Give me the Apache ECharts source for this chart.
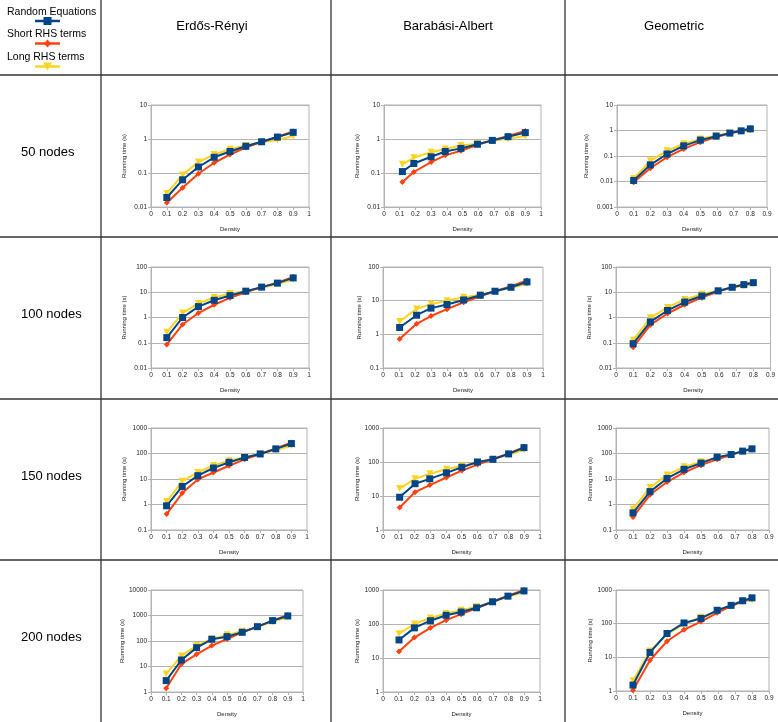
<!DOCTYPE html>
<html>
<head>
<meta charset="utf-8">
<script src="https://cdn.jsdelivr.net/npm/echarts@6/dist/echarts.min.js"></script>
<style>
  html, body { margin: 0; padding: 0; background: #fff; }
  #main { width: 778px; height: 722px; }
</style>
</head>
<body>
<div id="main"></div>
<script>
// densities (x values) as plotted
var erDensity = [0.1, 0.2, 0.3, 0.4, 0.5, 0.6, 0.7, 0.8, 0.9];
var baDensity50 = [0.117, 0.19, 0.3, 0.39, 0.49, 0.595, 0.69, 0.79, 0.9];
var baDensity100 = [0.104, 0.21, 0.3, 0.4, 0.504, 0.608, 0.7, 0.8, 0.9];
var baDensity150 = [0.106, 0.204, 0.298, 0.404, 0.502, 0.602, 0.7, 0.8, 0.898];
var baDensity200 = [0.102, 0.2, 0.302, 0.402, 0.498, 0.596, 0.698, 0.796, 0.898];
var geoDensity = [0.1, 0.2, 0.3, 0.4, 0.5, 0.595, 0.677, 0.745, 0.8];

// running times (s) : Erdős-Rényi
var er50Random = [0.019, 0.063, 0.15, 0.29, 0.43, 0.61, 0.83, 1.14, 1.57];
var er50Short = [0.0134, 0.037, 0.095, 0.2, 0.35, 0.56, 0.82, 1.17, 1.68];
var er50Long = [0.025, 0.088, 0.21, 0.35, 0.5, 0.64, 0.8, 0.93, 1.22];
var er100Random = [0.16, 1.0, 2.7, 4.8, 7.4, 11, 16, 23, 37];
var er100Short = [0.085, 0.53, 1.5, 3.2, 6, 10, 16, 24, 40];
var er100Long = [0.26, 1.5, 3.6, 6.2, 8.9, 11, 15, 21, 32];
var er150Random = [0.89, 5.1, 13.5, 27, 45, 70, 96, 152, 245];
var er150Short = [0.42, 2.8, 9.6, 18, 33, 59, 96, 157, 270];
var er150Long = [1.3, 8.1, 18, 34, 52, 72, 96, 138, 200];
var er200Random = [2.8, 18, 55, 117, 148, 219, 365, 630, 960];
var er200Short = [1.4, 12.6, 30, 66, 120, 220, 365, 630, 1050];
var er200Long = [5.1, 26, 66, 120, 174, 240, 345, 575, 850];

// Barabási-Albert
var ba50Random = [0.11, 0.19, 0.3, 0.43, 0.53, 0.7, 0.91, 1.17, 1.54];
var ba50Short = [0.054, 0.107, 0.21, 0.33, 0.45, 0.68, 0.91, 1.22, 1.72];
var ba50Long = [0.18, 0.28, 0.41, 0.51, 0.64, 0.73, 0.89, 1.02, 1.22];
var ba100Random = [1.6, 3.7, 6, 7.7, 10.5, 14.5, 19, 25, 36];
var ba100Short = [0.73, 2.06, 3.5, 5.6, 9, 13.5, 19, 27, 40];
var ba100Long = [2.4, 5.7, 7.9, 10, 12.6, 14.8, 19, 24, 32];
var ba150Random = [9.2, 23, 32, 48, 70, 100, 120, 173, 265];
var ba150Short = [4.6, 13, 21, 35, 56, 84, 120, 178, 275];
var ba150Long = [16.5, 32, 45, 61, 77, 98, 120, 162, 230];
var ba200Random = [34, 77, 125, 180, 225, 300, 450, 660, 940];
var ba200Short = [15.5, 40, 77, 130, 195, 290, 450, 680, 1000];
var ba200Long = [52, 100, 150, 205, 255, 320, 440, 630, 870];

// Geometric
var geo50Random = [0.011, 0.045, 0.12, 0.25, 0.42, 0.6, 0.79, 0.97, 1.16];
var geo50Short = [0.0094, 0.033, 0.09, 0.19, 0.35, 0.55, 0.76, 1.0, 1.2];
var geo50Long = [0.013, 0.065, 0.16, 0.3, 0.46, 0.62, 0.79, 0.91, 1.0];
var geo100Random = [0.092, 0.67, 1.9, 4.1, 7.1, 11.3, 15.7, 20, 24];
var geo100Short = [0.066, 0.51, 1.44, 3.2, 6.1, 10.6, 15.7, 20.5, 25];
var geo100Long = [0.127, 0.97, 2.5, 5.2, 8.3, 11.6, 15, 18, 21];
var geo150Random = [0.47, 3.2, 10.5, 24, 42, 72, 91, 124, 152];
var geo150Short = [0.32, 2.4, 7.6, 18, 35, 59, 87, 124, 160];
var geo150Long = [0.67, 4.6, 14.5, 30, 48, 68, 90, 118, 143];
var geo200Random = [1.5, 14, 51, 105, 143, 250, 350, 480, 585];
var geo200Short = [1.05, 8.2, 30, 66, 115, 210, 330, 460, 560];
var geo200Long = [2.0, 15.5, 48, 98, 155, 240, 340, 450, 520];

var columnTitles = ['Erdős-Rényi', 'Barabási-Albert', 'Geometric'];
var rowTitles = ['50 nodes', '100 nodes', '150 nodes', '200 nodes'];
var seriesNames = ['Random Equations', 'Short RHS terms', 'Long RHS terms'];

// one entry per small chart: data + axis range + grid box
var panels = [
    { x: erDensity, d: [er50Random, er50Short, er50Long], yMin: 0.01, yMax: 10, xMax: 1, box: [151, 105, 158, 102], gap: 24 },
    { x: baDensity50, d: [ba50Random, ba50Short, ba50Long], yMin: 0.01, yMax: 10, xMax: 1, box: [384, 105, 157, 102], gap: 24 },
    { x: geoDensity, d: [geo50Random, geo50Short, geo50Long], yMin: 0.001, yMax: 10, xMax: 0.9, box: [617, 105, 150, 102], gap: 28 },
    { x: erDensity, d: [er100Random, er100Short, er100Long], yMin: 0.01, yMax: 100, xMax: 1, box: [151, 267, 158, 101], gap: 24 },
    { x: baDensity100, d: [ba100Random, ba100Short, ba100Long], yMin: 0.1, yMax: 100, xMax: 1, box: [383, 267, 160, 101], gap: 21 },
    { x: geoDensity, d: [geo100Random, geo100Short, geo100Long], yMin: 0.01, yMax: 100, xMax: 0.9, box: [616, 267, 155, 101], gap: 24 },
    { x: erDensity, d: [er150Random, er150Short, er150Long], yMin: 0.1, yMax: 1000, xMax: 1, box: [151, 428, 156, 102], gap: 24 },
    { x: baDensity150, d: [ba150Random, ba150Short, ba150Long], yMin: 1, yMax: 1000, xMax: 1, box: [383, 428, 157, 102], gap: 22 },
    { x: geoDensity, d: [geo150Random, geo150Short, geo150Long], yMin: 0.1, yMax: 1000, xMax: 0.9, box: [616, 428, 153, 102], gap: 21 },
    { x: erDensity, d: [er200Random, er200Short, er200Long], yMin: 1, yMax: 10000, xMax: 1, box: [151, 590, 152, 102], gap: 23 },
    { x: baDensity200, d: [ba200Random, ba200Short, ba200Long], yMin: 1, yMax: 1000, xMax: 1, box: [383, 590, 157, 102], gap: 22 },
    { x: geoDensity, d: [geo200Random, geo200Short, geo200Long], yMin: 1, yMax: 1000, xMax: 0.9, box: [616, 590, 153, 101], gap: 22 }
];

var colors = ['#004586', '#ff420e', '#ffd320'];
var symbols = ['rect', 'diamond', 'triangle'];
var symbolSizes = [7, 6, 7];
var symbolRotates = [0, 0, 180];
var zOrder = [4, 3, 2];
var gridColor = '#b3b3b3';
var font = '"Liberation Sans", Arial, sans-serif';

var grids = [], xAxes = [], yAxes = [], series = [];

panels.forEach(function (p, i) {
    grids.push({
        left: p.box[0], top: p.box[1], width: p.box[2], height: p.box[3],
        show: true, borderColor: gridColor, borderWidth: 1, backgroundColor: '#fff'
    });
    xAxes.push({
        gridIndex: i,
        type: 'value',
        min: 0,
        max: p.xMax,
        interval: 0.1,
        name: 'Density',
        nameLocation: 'middle',
        nameGap: 19,
        nameTextStyle: { fontSize: 6, color: '#222', fontFamily: font },
        axisLine: { lineStyle: { color: gridColor } },
        axisTick: { length: 3, lineStyle: { color: gridColor } },
        axisLabel: {
            fontSize: 6.5, color: '#222', margin: 4, fontFamily: font,
            formatter: function (v) { return String(Number(v.toFixed(2))); }
        },
        splitLine: { show: false }
    });
    yAxes.push({
        gridIndex: i,
        type: 'log',
        logBase: 10,
        min: p.yMin,
        max: p.yMax,
        name: 'Running time (s)',
        nameLocation: 'middle',
        nameGap: p.gap,
        nameTextStyle: { fontSize: 6, color: '#222', fontFamily: font },
        axisLine: { show: true, lineStyle: { color: gridColor } },
        axisTick: { show: true, length: 3, lineStyle: { color: gridColor } },
        minorTick: { show: false },
        axisLabel: {
            fontSize: 6.5, color: '#222', margin: 4, fontFamily: font,
            formatter: function (v) { return String(Number(v.toPrecision(6))); }
        },
        splitLine: { show: true, lineStyle: { color: gridColor, width: 1 } }
    });
    // draw long, short, then random so the blue line ends up on top
    [2, 1, 0].forEach(function (k) {
        series.push({
            name: seriesNames[k],
            type: 'line',
            xAxisIndex: i,
            yAxisIndex: i,
            z: zOrder[k],
            data: p.x.map(function (xv, j) { return [xv, p.d[k][j]]; }),
            symbol: symbols[k],
            symbolSize: symbolSizes[k],
            symbolRotate: symbolRotates[k],
            showAllSymbol: true,
            lineStyle: { color: colors[k], width: 2 },
            itemStyle: { color: colors[k] },
            animation: false
        });
    });
});

// table rules, headings and the key in the top-left cell
var lineColor = '#333';
var graphics = [];
[75, 237, 399, 560].forEach(function (y) {
    graphics.push({ type: 'line', shape: { x1: 0, y1: y, x2: 778, y2: y }, style: { stroke: lineColor, lineWidth: 1.3 } });
});
[101, 331, 565].forEach(function (x) {
    graphics.push({ type: 'line', shape: { x1: x, y1: 0, x2: x, y2: 722 }, style: { stroke: lineColor, lineWidth: 1.3 } });
});

var colCenters = [212, 448, 674];
columnTitles.forEach(function (t, i) {
    graphics.push({
        type: 'text', x: colCenters[i], y: 26,
        style: { text: t, fontSize: 13, fontFamily: font, fill: '#000', align: 'center', verticalAlign: 'middle' }
    });
});

var rowCenters = [152, 314, 476, 637];
rowTitles.forEach(function (t, i) {
    graphics.push({
        type: 'text', x: 21, y: rowCenters[i],
        style: { text: t, fontSize: 13, fontFamily: font, fill: '#000', align: 'left', verticalAlign: 'middle' }
    });
});

var keyTextY = [12, 34, 57];
var keyLineY = [21, 43.5, 66.5];
seriesNames.forEach(function (name, k) {
    graphics.push({
        type: 'text', x: 7, y: keyTextY[k],
        style: { text: name, fontSize: 10.5, fontFamily: font, fill: '#000', align: 'left', verticalAlign: 'middle' }
    });
    graphics.push({
        type: 'line', shape: { x1: 35, y1: keyLineY[k], x2: 60, y2: keyLineY[k] },
        style: { stroke: colors[k], lineWidth: 2.5 }
    });
    var cx = 47.5, cy = keyLineY[k];
    if (k === 0) {
        graphics.push({ type: 'rect', shape: { x: cx - 4, y: cy - 4, width: 8, height: 8 }, style: { fill: colors[k] } });
    } else if (k === 1) {
        graphics.push({ type: 'polygon', shape: { points: [[cx, cy - 4], [cx + 3.5, cy], [cx, cy + 4], [cx - 3.5, cy]] }, style: { fill: colors[k] } });
    } else {
        graphics.push({ type: 'polygon', shape: { points: [[cx - 4.5, cy - 4], [cx + 4.5, cy - 4], [cx, cy + 4]] }, style: { fill: colors[k] } });
    }
});

var chart = echarts.init(document.getElementById('main'), null, { renderer: 'canvas' });
chart.setOption({
    backgroundColor: '#fff',
    animation: false,
    grid: grids,
    xAxis: xAxes,
    yAxis: yAxes,
    series: series,
    graphic: graphics
});
</script>
</body>
</html>
